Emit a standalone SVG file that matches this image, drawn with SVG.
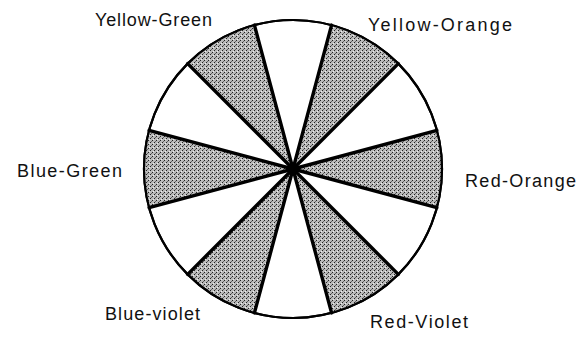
<svg xmlns="http://www.w3.org/2000/svg" width="581" height="339" viewBox="0 0 581 339">
  <defs>
    <pattern id="stipple" width="4" height="4" patternUnits="userSpaceOnUse">
      <rect width="4" height="4" fill="#bababa"/>
      <rect x="0" y="0" width="1" height="1" fill="#222"/>
      <rect x="2" y="2" width="1" height="1" fill="#222"/>
      <rect x="3" y="1" width="1" height="1" fill="#666"/>
      <rect x="1" y="3" width="1" height="1" fill="#eee"/>
    </pattern>
  </defs>
  <style>
    .shade { fill: url(#stipple); stroke: none; }
    .rim { fill: #fff; stroke: #000; stroke-width: 2.2; }
    .spoke { stroke: #000; stroke-width: 3.4; stroke-linecap: round; }
    .lbl { font-family: "Liberation Sans", Arial, sans-serif; font-size: 18px; fill: #111; }
  </style>
  <rect width="581" height="339" fill="#fff"/>

  <g id="wheel">
    <circle class="rim" cx="293" cy="169" r="149"/>
    <path id="wedge-yellow-orange" class="shade" d="M293,169 L331.56,25.08 A149,149 0 0 1 398.36,63.64 Z"/>
    <path id="wedge-red-orange" class="shade" d="M293,169 L436.92,130.44 A149,149 0 0 1 436.92,207.56 Z"/>
    <path id="wedge-red-violet" class="shade" d="M293,169 L398.36,274.36 A149,149 0 0 1 331.56,312.92 Z"/>
    <path id="wedge-blue-violet" class="shade" d="M293,169 L254.44,312.92 A149,149 0 0 1 187.64,274.36 Z"/>
    <path id="wedge-blue-green" class="shade" d="M293,169 L149.08,207.56 A149,149 0 0 1 149.08,130.44 Z"/>
    <path id="wedge-yellow-green" class="shade" d="M293,169 L187.64,63.64 A149,149 0 0 1 254.44,25.08 Z"/>
    <circle cx="293" cy="169" r="149" fill="none" stroke="#000" stroke-width="2.2"/>
  </g>

  <g id="spokes">
    <line class="spoke" x1="293" y1="169" x2="331.56" y2="25.08"/>
    <line class="spoke" x1="293" y1="169" x2="398.36" y2="63.64"/>
    <line class="spoke" x1="293" y1="169" x2="436.92" y2="130.44"/>
    <line class="spoke" x1="293" y1="169" x2="436.92" y2="207.56"/>
    <line class="spoke" x1="293" y1="169" x2="398.36" y2="274.36"/>
    <line class="spoke" x1="293" y1="169" x2="331.56" y2="312.92"/>
    <line class="spoke" x1="293" y1="169" x2="254.44" y2="312.92"/>
    <line class="spoke" x1="293" y1="169" x2="187.64" y2="274.36"/>
    <line class="spoke" x1="293" y1="169" x2="149.08" y2="207.56"/>
    <line class="spoke" x1="293" y1="169" x2="149.08" y2="130.44"/>
    <line class="spoke" x1="293" y1="169" x2="187.64" y2="63.64"/>
    <line class="spoke" x1="293" y1="169" x2="254.44" y2="25.08"/>
    <circle cx="293" cy="169" r="4.5" fill="#000"/>
  </g>

  <g id="labels">
    <text id="lbl-yellow-green" class="lbl" x="95" y="26" textLength="117" lengthAdjust="spacing">Yellow-Green</text>
    <text id="lbl-yellow-orange" class="lbl" x="368" y="31" textLength="144" lengthAdjust="spacing">Yellow-Orange</text>
    <text id="lbl-blue-green" class="lbl" x="17" y="177" textLength="105" lengthAdjust="spacing">Blue-Green</text>
    <text id="lbl-red-orange" class="lbl" x="465" y="187" textLength="111" lengthAdjust="spacing">Red-Orange</text>
    <text id="lbl-blue-violet" class="lbl" x="105" y="320" textLength="95" lengthAdjust="spacing">Blue-violet</text>
    <text id="lbl-red-violet" class="lbl" x="370" y="328" textLength="98" lengthAdjust="spacing">Red-Violet</text>
  </g>
</svg>
